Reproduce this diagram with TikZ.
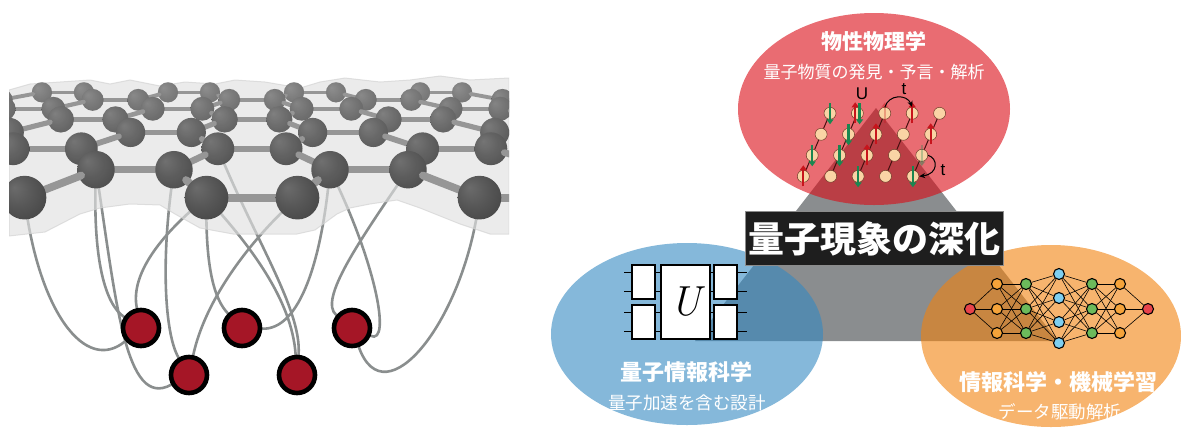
\documentclass[tikz,border=0pt]{standalone}
\usepackage{fontspec}
\newfontfamily\jp{Noto Sans CJK JP}
\newfontfamily\lat{Liberation Sans}
\usetikzlibrary{arrows.meta}

\definecolor{ellred}{RGB}{218,10,20}
\definecolor{ellblue}{RGB}{52,137,193}
\definecolor{ellorange}{RGB}{242,130,13}
\definecolor{tri}{RGB}{138,141,143}
\definecolor{labelbg}{RGB}{30,30,30}
\definecolor{wire}{RGB}{138,142,142}
\definecolor{bead}{RGB}{165,22,38}
\definecolor{bondgray}{RGB}{150,150,150}
\definecolor{site}{RGB}{250,212,165}
\definecolor{siteline}{RGB}{110,60,40}
\definecolor{latline}{RGB}{70,15,15}
\definecolor{spinup}{RGB}{200,20,28}
\definecolor{spindn}{RGB}{25,135,80}
\definecolor{nnred}{RGB}{232,67,75}
\definecolor{nnorange}{RGB}{245,163,58}
\definecolor{nngreen}{RGB}{108,186,91}
\definecolor{nnblue}{RGB}{127,207,240}

\pgfdeclareradialshading{atomball}{\pgfpoint{-12bp}{12bp}}{%
  color(0bp)=(black!58); color(18bp)=(black!66); color(38bp)=(black!74); color(50bp)=(black!80)}

\pgfdeclarelayer{wirelayer}
\pgfsetlayers{wirelayer,main}

% spin arrows on a lattice site (optional horizontal offset)
\newcommand\spinUp[2][0]{\draw[upsp] ([xshift=#1pt,yshift=-10pt]#2.center) -- ([xshift=#1pt,yshift=11pt]#2.center);}
\newcommand\spinDown[2][0]{\draw[dnsp] ([xshift=#1pt,yshift=10pt]#2.center) -- ([xshift=#1pt,yshift=-11pt]#2.center);}

\begin{document}
\begin{tikzpicture}[x=1pt,y=-1pt,
  wirestyle/.style={draw=wire, line width=2.6pt, line cap=round},
  bead/.style={circle, fill=bead, draw=black, line width=4.6pt, minimum size=36pt, inner sep=0pt},
  bondline/.style={draw=bondgray, line cap=round},
  site/.style={circle, fill=site, draw=siteline, line width=.5pt, minimum size=12pt, inner sep=0pt},
  latline/.style={draw=latline, line width=1pt},
  upsp/.style={draw=spinup, line width=2.3pt, -{Triangle[length=5pt,width=7pt]}},
  dnsp/.style={draw=spindn, line width=2.3pt, -{Triangle[length=5pt,width=7pt]}},
  hop/.style={draw=black, line width=1pt, -{Stealth[length=6pt,width=5pt]}},
  gatebox/.style={draw=black, fill=white, line width=2pt, inner sep=0pt},
  qwire/.style={draw=black, line width=1.6pt},
  nnnode/.style={circle, draw=black, line width=1.1pt, minimum size=11pt, inner sep=0pt},
  nnedge/.style={draw=black, line width=.6pt},
  headline/.style={text=white, font=\jp\bfseries\fontsize{21}{21}\selectfont},
  subline/.style={text=white, font=\jp\fontsize{17}{17}\selectfont},
  labelbox/.style={fill=labelbg, draw=black!45, line width=.6pt, minimum width=258pt,
    minimum height=54pt, inner sep=0pt, text=white, font=\jp\bfseries\fontsize{36}{36}\selectfont},
  latin/.style={text=black, font=\lat\fontsize{17}{17}\selectfont, inner sep=0pt},
]
\useasboundingbox (0,0) rectangle (1181,429);

% ---------- right half: three overlapping fields ----------
\fill[tri] (876,108) -- (695,341) -- (1058,341) -- cycle;
\fill[ellred, opacity=.6] (874,109) ellipse [x radius=136pt, y radius=96pt];
\fill[ellblue, opacity=.6] (687,334) ellipse [x radius=136pt, y radius=91pt];
\fill[ellorange, opacity=.6] (1051,336) ellipse [x radius=130pt, y radius=91pt];

% Hubbard lattice
\foreach \r in {0,...,3}
  \foreach \c in {0,...,4}
    \node[site] (h\r\c) at ({830-8.9*\r+27.4*\c},{113.3+21*\r}) {};
\foreach \r in {0,...,3}
  \foreach \c [evaluate=\c as \cn using int(\c+1)] in {0,...,3}
    \draw[latline] (h\r\c) -- (h\r\cn);
\foreach \r [evaluate=\r as \rn using int(\r+1)] in {0,...,2}
  \foreach \c in {0,...,4}
    \draw[latline] (h\r\c) -- (h\rn\c);
\spinDown{h00}
\spinUp[-2.2]{h01}\spinDown[2.2]{h01}
\spinUp{h03}
\spinDown{h11}\spinUp{h12}\spinUp{h14}
\spinDown{h20}\spinDown{h21}\spinUp{h22}
\spinUp{h30}\spinDown{h32}\spinDown{h34}
\begin{scope}[opacity=.3]
  \spinUp{h02}
  \spinDown{h24}
\end{scope}
\draw[hop] (h02.north) .. controls (889,94) and (907,94) .. (h03.north);
\draw[hop] (h24.east) .. controls (938,158) and (939,174) .. (h34.east);
\node[latin] (labU) at (862,94) {U};
\node[latin] (labT1) at (904,89) {t};
\node[latin] (labT2) at (943,170) {t};

% quantum circuit
\node[gatebox, minimum width=23pt, minimum height=34pt] (qa) at (643.5,282) {};
\node[gatebox, minimum width=23pt, minimum height=34pt] (qb) at (643.5,322) {};
\node[gatebox, minimum width=49pt, minimum height=74pt] (qu) at (685.5,302)
  {\fontsize{42}{42}\selectfont\itshape U};
\node[gatebox, minimum width=23pt, minimum height=34pt] (qc) at (725.5,282) {};
\node[gatebox, minimum width=23pt, minimum height=34pt] (qd) at (725.5,322) {};
\foreach \g in {qa,qb}
  \foreach \dy in {9.5,-9.5} {
    \draw[qwire] ([yshift=\dy pt]\g.west) -- ++(-7,0);
    \draw[qwire] ([yshift=\dy pt]\g.east) -- ++(6,0);
  }
\foreach \g in {qc,qd}
  \foreach \dy in {9.5,-9.5} {
    \draw[qwire] ([yshift=\dy pt]\g.west) -- ++(-4,0);
    \draw[qwire] ([yshift=\dy pt]\g.east) -- ++(9,0);
  }

% neural network
\foreach \L/\x/\ys/\col in {0/970/{309}/nnred, 1/997/{284,309,333}/nnorange,
    2/1026/{284,309,333}/nngreen, 3/1059/{274,298,322,343}/nnblue,
    4/1092/{284,309,333}/nngreen, 5/1120/{284,309,333}/nnorange, 6/1148/{309}/nnred}
  \foreach \y [count=\i] in \ys
    \node[nnnode, fill=\col] (nn\L-\i) at (\x,\y) {};
\foreach \a/\na/\b/\nb in {0/1/1/3, 1/3/2/3, 2/3/3/4, 3/4/4/3, 4/3/5/3, 5/3/6/1}
  \foreach \i in {1,...,\na}
    \foreach \j in {1,...,\nb}
      \draw[nnedge] (nn\a-\i) -- (nn\b-\j);

% texts
\node[headline] (physT) at (874,41) {物性物理学};
\node[subline] (physS) at (874,72) {量子物質の発見・予言・解析};
\node[headline, font=\jp\bfseries\fontsize{22}{22}\selectfont] (qiT) at (686,372) {量子情報科学};
\node[subline, font=\jp\fontsize{17.5}{17.5}\selectfont] (qiS) at (687,403) {量子加速を含む設計};
\node[headline, font=\jp\bfseries\fontsize{22}{22}\selectfont] (mlT) at (1058,382) {情報科学・機械学習};
\node[subline, font=\jp\fontsize{17.5}{17.5}\selectfont] (mlS) at (1060,412) {データ駆動解析};
\node[labelbox] (core) at (874,238.5) {量子現象の深化};

% ---------- left half: lattice with wired qubits ----------
\coordinate (atS1) at (24.5,197.6);
\coordinate (atS2) at (206.5,197.6);
\coordinate (atS3) at (297.5,197.6);
\coordinate (atS4) at (479.5,197.6);
\coordinate (atP1) at (96,169.7);
\coordinate (atP2) at (174,169.7);
\coordinate (atP3) at (330,169.7);
\coordinate (atP4) at (408,169.7);
\coordinate (atQ1) at (218,148.8);

\node[bead] (bA) at (141,328) {};
\node[bead] (bB) at (242,328) {};
\node[bead] (bC) at (352,328) {};
\node[bead] (bD) at (189,375) {};
\node[bead] (bE) at (297,375) {};

\begin{pgfonlayer}{wirelayer}
\draw[wirestyle] (atS1) .. controls (38,310) and (85,375) .. (bA);
\draw[wirestyle] (atP1) .. controls (92,262) and (106,305) .. (bA);
\draw[wirestyle] (atP1) .. controls (116,300) and (125,410) .. (bD);
\draw[wirestyle] (atP2) .. controls (160,260) and (165,335) .. (bD);
\draw[wirestyle] (atS2) .. controls (160,235) and (130,275) .. (bA);
\draw[wirestyle] (atS2) .. controls (205,270) and (215,300) .. (bB);
\draw[wirestyle] (atS2) .. controls (250,245) and (292,300) .. (bE);
\draw[wirestyle] (atS3) .. controls (250,240) and (205,300) .. (bD);
\draw[wirestyle] (atQ1) .. controls (255,240) and (302,310) .. (bE);
\draw[wirestyle] (atP3) .. controls (322,260) and (300,330) .. (bB);
\draw[wirestyle] (atP3) .. controls (375,260) and (392,345) .. (bC);
\draw[wirestyle] (atP4) .. controls (360,240) and (318,300) .. (bC);
\draw[wirestyle] (atS4) .. controls (465,320) and (385,420) .. (bC);
\end{pgfonlayer}

\begin{scope}
\clip (9,60) rectangle (509,262);
% translucent surface around the atoms
\filldraw[fill=black!12, draw=black!18, line width=1pt, opacity=.65]
  (9,90) -- (30,84) -- (60,82) -- (90,80) -- (110,84) -- (130,80) -- (160,86) -- (185,82)
  -- (215,84) -- (235,80) -- (265,82) -- (300,88) -- (320,82) -- (345,78) -- (380,82)
  -- (410,80) -- (440,76) -- (470,80) -- (509,78)
  -- (509,234) -- (490,234) -- (460,224) -- (420,208) -- (397,200) -- (370,204)
  -- (350,208) -- (337,214) -- (315,230) -- (297,234) -- (233,234) -- (200,228)
  -- (175,214) -- (160,205) -- (130,204) -- (100,208) -- (80,214) -- (45,232) -- (9,236) -- cycle;
% honeycomb lattice in perspective, drawn back to front
\foreach \k in {7,6,...,0} {
  \pgfmathsetmacro\sa{1/(0.01099+0.00183*\k)}
  \pgfmathsetmacro\sb{1/(0.01099+0.00183*(\k+1))}
  \pgfmathsetmacro\ya{2+2.15*\sa}
  \pgfmathsetmacro\yb{2+2.15*\sb}
  \pgfmathsetmacro\ra{0.24*\sa}
  \pgfmathsetmacro\sh{0.85*0.24*\sb}
  \pgfmathsetmacro\wa{0.085*\sa}
  \pgfmathsetmacro\off{mod(\k,2)*1.5}
  \pgfmathsetmacro\fade{0.035*\k}
  \foreach \m in {-4,...,4} {
    \pgfmathsetmacro\xl{252+(3*\m+\off-0.5)*\sa}
    \pgfmathsetmacro\xr{252+(3*\m+\off+0.5)*\sa}
    \pgfmathsetmacro\xbl{252+(3*\m+\off-1)*\sb}
    \pgfmathsetmacro\xbr{252+(3*\m+\off+1)*\sb}
    \ifnum\k<7
      \draw[bondline, line width=\wa pt, shorten >=\sh pt] (\xl,\ya) -- (\xbl,\yb);
      \draw[bondline, line width=\wa pt, shorten >=\sh pt] (\xr,\ya) -- (\xbr,\yb);
    \fi
    \draw[bondline, line width=\wa pt] (\xl,\ya) -- (\xr,\ya);
  }
  \foreach \m in {-4,...,4} {
    \pgfmathsetmacro\xl{252+(3*\m+\off-0.5)*\sa}
    \pgfmathsetmacro\xr{252+(3*\m+\off+0.5)*\sa}
    \shade[shading=atomball] (\xl,\ya) circle [radius=\ra pt];
    \shade[shading=atomball] (\xr,\ya) circle [radius=\ra pt];
    \fill[white, opacity=\fade] (\xl,\ya) circle [radius=\ra pt];
    \fill[white, opacity=\fade] (\xr,\ya) circle [radius=\ra pt];
  }
}
\end{scope}
\end{tikzpicture}
\end{document}
